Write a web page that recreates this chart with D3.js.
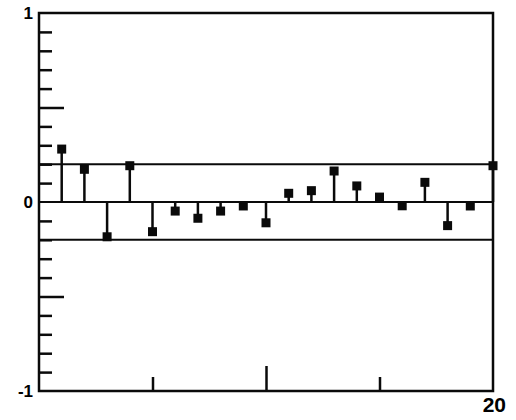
<!DOCTYPE html>
<html>
<head>
<meta charset="utf-8">
<script src="https://cdn.jsdelivr.net/npm/d3@7"></script>
<style>
  html, body { margin: 0; padding: 0; background: #fff; }
  svg { display: block; }
  .lbl { font-family: "Liberation Sans", Arial, sans-serif; font-weight: bold; fill: #000; }
</style>
</head>
<body>
<svg id="chart" width="516" height="420"></svg>
<script>
// Autocorrelation by lag
const lags = d3.range(1, 21);
const acf = [0.28, 0.173, -0.184, 0.192, -0.157, -0.048, -0.086, -0.048, -0.021, -0.11,
             0.046, 0.06, 0.164, 0.085, 0.026, -0.02, 0.104, -0.125, -0.021, 0.192];
// Significance band
const bandLimits = [0.2, -0.2];
// Tick positions
const yMinorTicks = [-0.9, -0.8, -0.7, -0.6, -0.4, -0.3, -0.2, -0.1, 0.1, 0.2, 0.3, 0.4, 0.6, 0.7, 0.8, 0.9];
const yMajorTicks = [-0.5, 0.5];
const xMinorTicks = [5, 15];
const xMajorTicks = [10];
const yLabels = ["-1", "0", "1"];
const yLabelValues = [-1, 0, 1];
const xLabel = "20";

const svg = d3.select("#chart");
const ink = "#0a0a0a";

const x = d3.scaleLinear().domain([0, 20]).range([39, 493]);
const y = d3.scaleLinear().domain([-1, 1]).range([391, 13]);

// inward ticks on the left edge
const yMinorAxis = d3.axisLeft(y).tickValues(yMinorTicks).tickSizeInner(-13).tickSizeOuter(0).tickFormat("");
const yMajorAxis = d3.axisLeft(y).tickValues(yMajorTicks).tickSizeInner(-25).tickSizeOuter(0).tickFormat("");
// inward ticks on the bottom edge
const xMinorAxis = d3.axisBottom(x).tickValues(xMinorTicks).tickSizeInner(-14).tickSizeOuter(0).tickFormat("");
const xMajorAxis = d3.axisBottom(x).tickValues(xMajorTicks).tickSizeInner(-25).tickSizeOuter(0).tickFormat("");

function styleAxis(g) {
  g.select(".domain").remove();
  g.selectAll(".tick line").attr("stroke", ink).attr("stroke-width", 2.5);
}

svg.append("g").attr("transform", `translate(${x(0)},0)`).call(yMinorAxis).call(styleAxis);
svg.append("g").attr("transform", `translate(${x(0)},0)`).call(yMajorAxis).call(styleAxis);
svg.append("g").attr("transform", `translate(0,${y(-1)})`).call(xMinorAxis).call(styleAxis);
svg.append("g").attr("transform", `translate(0,${y(-1)})`).call(xMajorAxis).call(styleAxis);

// significance band and zero line
svg.selectAll("line.band").data(bandLimits).join("line")
  .attr("class", "band")
  .attr("x1", x(0)).attr("x2", x(20))
  .attr("y1", d => y(d)).attr("y2", d => y(d))
  .attr("stroke", ink).attr("stroke-width", 2);

svg.append("line")
  .attr("x1", x(0)).attr("x2", x(20))
  .attr("y1", y(0)).attr("y2", y(0))
  .attr("stroke", ink).attr("stroke-width", 2.2);

// frame
svg.append("rect")
  .attr("x", x(0)).attr("y", y(1))
  .attr("width", x(20) - x(0)).attr("height", y(-1) - y(1))
  .attr("fill", "none").attr("stroke", ink).attr("stroke-width", 2.5);

// stems
svg.selectAll("line.stem").data(lags).join("line")
  .attr("class", "stem")
  .attr("x1", d => x(d)).attr("x2", d => x(d))
  .attr("y1", y(0)).attr("y2", (d, i) => y(acf[i]))
  .attr("stroke", ink).attr("stroke-width", 2.5);

// square markers
const ms = 9;
svg.selectAll("rect.pt").data(lags).join("rect")
  .attr("class", "pt")
  .attr("x", d => x(d) - ms / 2)
  .attr("y", (d, i) => y(acf[i]) - ms / 2)
  .attr("width", ms).attr("height", ms)
  .attr("fill", ink);

// labels
svg.selectAll("text.ylab").data(yLabelValues).join("text")
  .attr("class", "lbl ylab")
  .attr("x", 33)
  .attr("y", d => y(d))
  .attr("dy", "0.36em")
  .attr("text-anchor", "end")
  .attr("font-size", 17)
  .text((d, i) => yLabels[i]);

svg.append("text")
  .attr("class", "lbl")
  .attr("x", 506)
  .attr("y", 412)
  .attr("text-anchor", "end")
  .attr("font-size", 21)
  .text(xLabel);
</script>
</body>
</html>
